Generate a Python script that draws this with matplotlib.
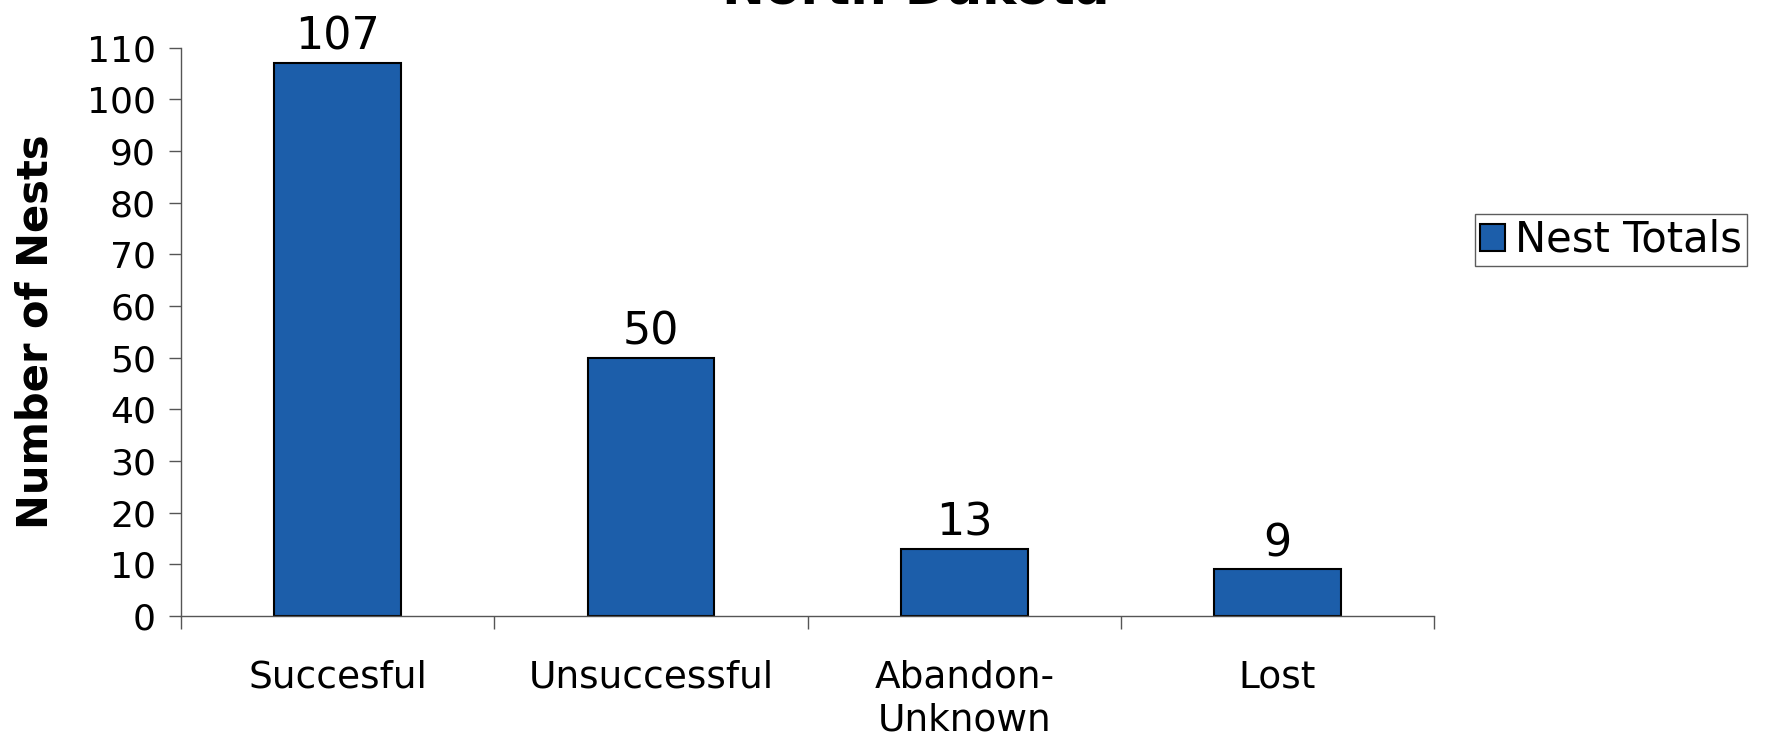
import matplotlib.pyplot as plt
from matplotlib.patches import Patch

plt.rcParams['font.family'] = ['DejaVu Sans']

# ---- data ----
categories = ["Succesful", "Unsuccessful", "Abandon-\nUnknown", "Lost"]
nest_totals = [107, 50, 13, 9]
yticks = list(range(0, 111, 10))

BAR_COLOR = "#1c5eaa"
AXIS_COLOR = "#555555"

fig = plt.figure(figsize=(17.75, 7.38), dpi=100)
ax = fig.add_axes([0.102, 0.1653, 0.706, 0.7703])

x = list(range(len(categories)))
ax.bar(x, nest_totals, width=0.405, color=BAR_COLOR,
       edgecolor="black", linewidth=1.5, label="Nest Totals")

# value labels above the bars
for xi, v in zip(x, nest_totals):
    ax.text(xi, v + 2.6, str(v), ha="center", va="baseline", fontsize=32)

ax.set_xlim(-0.5, len(categories) - 0.5)
ax.set_ylim(0, 110)
ax.set_yticks(yticks)
ax.tick_params(axis="y", labelsize=26, length=9, width=1, color=AXIS_COLOR, pad=9)

# x ticks at category boundaries, labels centred under bars
ax.set_xticks([i - 0.5 for i in range(len(categories) + 1)])
ax.set_xticklabels([])
ax.set_xticks(x, minor=True)
ax.set_xticklabels(categories, minor=True, fontsize=27, linespacing=1.25)
ax.tick_params(axis="x", which="major", length=9, width=1, color=AXIS_COLOR)
ax.tick_params(axis="x", which="minor", length=0, pad=31)

for s in ["top", "right"]:
    ax.spines[s].set_visible(False)
for s in ["left", "bottom"]:
    ax.spines[s].set_color(AXIS_COLOR)
    ax.spines[s].set_linewidth(1)

ax.set_ylabel("Number of Nests", fontsize=30, fontweight="bold", va="center")
ax.yaxis.set_label_coords(-0.1165, 0.5)

# title sits mostly above the image edge (cropped in original)
fig.text(916 / 1775, 1 - 3.5 / 738, "North Dakota", ha="center", va="baseline",
         fontsize=37, fontweight="bold")

handle = Patch(facecolor=BAR_COLOR, edgecolor="black", linewidth=1.5)
leg = fig.legend([handle], ["Nest Totals"], loc="center",
                 bbox_to_anchor=(1611 / 1775, 1 - 240 / 738),
                 fontsize=30, frameon=True, fancybox=False,
                 handlelength=0.6, handleheight=0.6, handletextpad=0.25,
                 borderpad=0.12, borderaxespad=0)
leg.get_frame().set_edgecolor("#333333")
leg.get_frame().set_linewidth(1)

fig.savefig("out.png", dpi=100)
